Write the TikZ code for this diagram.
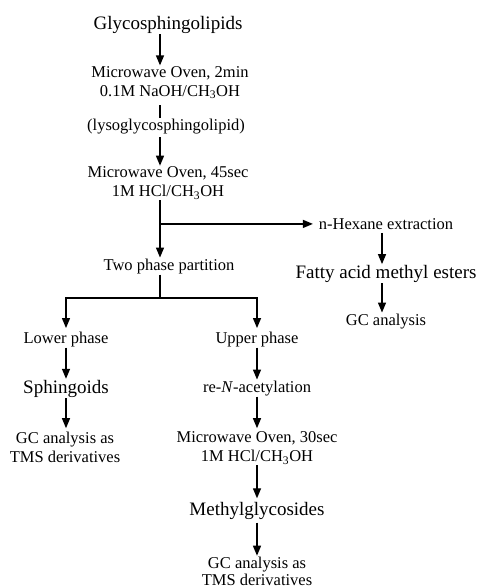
\documentclass[tikz,border=0pt]{standalone}
\usepackage{fontspec}
\setmainfont{Liberation Serif}
\usetikzlibrary{arrows.meta}

\begin{document}
\begin{tikzpicture}[
 x=1pt, y=-1pt,
 stage/.style={font=\fontsize{16.5}{19}\selectfont, align=center, inner sep=1pt, outer sep=0pt, anchor=base},
 twoline/.style={stage, anchor=north},
 compound/.style={font=\fontsize{19}{22}\selectfont, inner sep=1pt, outer sep=0pt, anchor=base},
 arrow/.style={-{Triangle[length=10pt, width=8pt]}, line width=1.3pt},
 link/.style={line width=1.3pt}
]
\useasboundingbox (0,0) rectangle (478,588);

% Main column
\coordinate (main) at (160,0);
\node[compound] (glyco) at (168,29.3) {Glycosphingolipids};
\node[twoline] (mwA) at (170,65.4) {Microwave Oven, 2min\\0.1M NaOH/CH\textsubscript{3}OH};
\node[stage] (lyso) at (166,130.7) {(lysoglycosphingolipid)};
\node[twoline] (mwB) at (168,165.7) {Microwave Oven, 45sec\\1M HCl/CH\textsubscript{3}OH};
\node[stage] (twophase) at (169,270) {Two phase partition};

\draw[arrow] (glyco.south -| main) -- (mwA.north -| main);
\draw[link, shorten <=5pt] (mwA.south -| main) -- (lyso.north -| main);
\draw[arrow, shorten <=2pt] (lyso.south -| main) -- (mwB.north -| main);
\draw[arrow] (mwB.south -| main) -- (twophase.north -| main);

% Hexane extraction branch
\coordinate (side) at (382,0);
\node[stage] (hexane) at (386,229.3) {n-Hexane extraction};
\node[compound] (fame) at (386,278.3) {Fatty acid methyl esters};
\node[stage] (gcone) at (386,325) {GC analysis};

\draw[arrow, shorten >=5pt] (hexane.west -| main) -- (hexane.west);
\draw[arrow, shorten <=2.5pt] (hexane.south -| side) -- (fame.north -| side);
\draw[arrow] (fame.south -| side) -- (gcone.north -| side);

% Two phases
\coordinate (fork) at (160,298);
\coordinate (low) at (66,0);
\coordinate (up) at (257,0);
\node[stage] (lower) at (66,343) {Lower phase};
\node[stage] (upper) at (257,343) {Upper phase};

\draw[link] (twophase.south -| main) -- (fork);
\draw[arrow, shorten >=2.5pt] (fork) -| (lower.north);
\draw[arrow, shorten >=2.5pt] (fork) -| (upper.north);

% Lower phase
\node[compound] (sphing) at (66,393) {Sphingoids};
\node[twoline] (gcA) at (65,430.7) {GC analysis as\\TMS derivatives};

\draw[arrow] (lower.south -| low) -- (sphing.north -| low);
\draw[arrow, shorten >=2.5pt] (sphing.south -| low) -- (gcA.north -| low);

% Upper phase
\node[stage] (reN) at (257,392) {re-\textit{N}-acetylation};
\node[twoline] (mwC) at (257,430.7) {Microwave Oven, 30sec\\1M HCl/CH\textsubscript{3}OH};
\node[compound] (methyl) at (257,515) {Methylglycosides};
\node[twoline, font=\fontsize{16.5}{17}\selectfont] (gcB) at (257,555.7) {GC analysis as\\TMS derivatives};

\draw[arrow] (upper.south -| up) -- (reN.north -| up);
\draw[arrow, shorten >=2.5pt] (reN.south -| up) -- (mwC.north -| up);
\draw[arrow, shorten >=2.5pt] (mwC.south -| up) -- (methyl.north -| up);
\draw[arrow, shorten <=2.5pt] (methyl.south -| up) -- (gcB.north -| up);
\end{tikzpicture}
\end{document}
